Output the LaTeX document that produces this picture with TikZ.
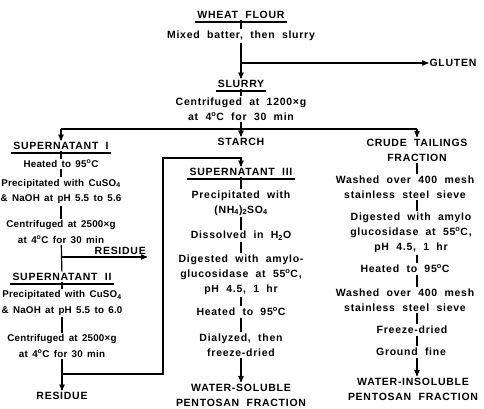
\documentclass[tikz,border=0pt]{standalone}
\usepackage{fontspec}
\setmainfont{Liberation Sans}
\newfontfamily\widefnt{Liberation Sans Bold}[LetterSpace=7, WordSpace=2.0]
\newfontfamily\narrowfnt{Liberation Sans Bold}[LetterSpace=2, WordSpace=1.5]
\usetikzlibrary{arrows}
\newcommand{\chem}[1]{\textsubscript{#1}}
\newcommand{\dg}{\textsuperscript{o}}
\tikzset{
  txt/.style = {align=center, inner xsep=1pt, inner ysep=1.5pt,
    font=\fontsize{10.5}{15}\selectfont\widefnt},
  ltxt/.style = {txt, font=\fontsize{9.8}{15.5}\selectfont\narrowfnt},% left column
  hdr/.style = {txt, inner xsep=2pt, append after command={
    ([yshift=-1.5pt]\tikzlastnode.south west) edge[lnk]
    ([yshift=-1.5pt]\tikzlastnode.south east)}},% heading, underlined
  lnk/.style = {line width=1.2pt},% plain connector
  flw/.style = {lnk, ->}% connector with arrow
}
\begin{document}
\begin{tikzpicture}[x=1pt, y=-1pt, >=stealth']
\useasboundingbox (0,0) rectangle (484,408);
% top part
\node [hdr] (flour) at (241,15) {WHEAT FLOUR};
\node [txt] (mix) at (241,36) {Mixed batter, then slurry};
\node [txt] (gluten) at (453,63) {GLUTEN};
\node [hdr] (slurry) at (241,84) {SLURRY};
\node [txt] (cent1) at (241,109) {Centrifuged at 1200×g\\at 4\dg C for 30 min};
\coordinate (gsplit) at (241,63);
\coordinate (split) at (241,129);
\draw [lnk] (flour) -- (mix);
\draw [flw] (mix) -- (slurry);
\draw [flw] (gsplit) -- (gluten);
\draw [lnk] (slurry) -- (cent1);
\draw [lnk] (cent1) -- (split);
% left column
\node [hdr] (sup1) at (61,146) {SUPERNATANT I};
\node [ltxt] (heat1) at (61,164) {Heated to 95\dg C};
\node [ltxt] (prec1) at (61,191.5) {Precipitated with CuSO\chem{4}\\\& NaOH at pH 5.5 to 5.6};
\node [ltxt] (cent2) at (61,232) {Centrifuged at 2500×g\\at 4\dg C for 30 min};
\node [txt, anchor=south east] (res1) at (147,256) {RESIDUE};
\node [hdr] (sup2) at (62,277) {SUPERNATANT II};
\node [ltxt] (prec2) at (62,303) {Precipitated with CuSO\chem{4}\\\& NaOH at pH 5.5 to 6.0};
\node [ltxt] (cent3) at (62,346) {Centrifuged at 2500×g\\at 4\dg C for 30 min};
\node [txt] (res2) at (62,396) {RESIDUE};
\coordinate (rsplit) at (61,257);
\coordinate (bsplit) at (62,374);
\coordinate (bx) at (163,158);
\draw [lnk] (sup1) -- (heat1);
\draw [lnk] (heat1) -- (prec1);
\draw [lnk] (prec1) -- (cent2);
\draw [lnk] (cent2) -- (sup2);
\draw [flw] (rsplit) -- (rsplit -| res1.south east);
\draw [lnk] (sup2) -- (prec2);
\draw [lnk] (prec2) -- (cent3);
\draw [flw] (cent3) -- (res2);
% middle column
\node [txt] (starch) at (241,142) {STARCH};
\node [hdr] (sup3) at (241,172) {SUPERNATANT III};
\node [txt] (pnh) at (241,203) {Precipitated with\\(NH\chem{4})\chem{2}SO\chem{4}};
\node [txt] (diss) at (241,236) {Dissolved in H\chem{2}O};
\node [txt] (dig1) at (241,275) {Digested with amylo-\\glucosidase at 55\dg C,\\pH 4.5, 1 hr};
\node [txt] (heat3) at (241,312) {Heated to 95\dg C};
\node [txt] (dial) at (241,345) {Dialyzed, then\\freeze-dried};
\node [txt] (wsol) at (241,395) {WATER-SOLUBLE\\PENTOSAN FRACTION};
\draw [flw] (bsplit) -| (bx) -| (sup3);
\draw [lnk] (sup3) -- (pnh);
\draw [lnk] (pnh) -- (diss);
\draw [lnk] (diss) -- (dig1);
\draw [lnk] (dig1) -- (heat3);
\draw [lnk] (heat3) -- (dial);
\draw [flw] (dial) -- (wsol);
% right column
\node [txt] (crude) at (417,150) {CRUDE TAILINGS\\FRACTION};
\node [txt] (wash1) at (405,187) {Washed over 400 mesh\\stainless steel sieve};
\node [txt] (dig2) at (411,233) {Digested with amylo\\glucosidase at 55\dg C,\\pH 4.5, 1 hr};
\node [txt] (heat4) at (405,269) {Heated to 95\dg C};
\node [txt] (wash2) at (405,300) {Washed over 400 mesh\\stainless steel sieve};
\node [txt] (freeze) at (412,330) {Freeze-dried};
\node [txt] (ground) at (411,352) {Ground fine};
\node [txt] (winsol) at (413,389) {WATER-INSOLUBLE\\PENTOSAN FRACTION};
\draw [lnk] (crude.south) -- (wash1.north -| crude);
\draw [lnk] (wash1.south -| crude) -- (dig2.north -| crude);
\draw [lnk] (dig2.south -| crude) -- (heat4.north -| crude);
\draw [lnk] (heat4.south -| crude) -- (wash2.north -| crude);
\draw [lnk] (wash2.south -| crude) -- (freeze.north -| crude);
\draw [lnk] (freeze.south -| crude) -- (ground.north -| crude);
\draw [flw] (ground.south -| crude) -- (winsol.north -| crude);
% branch to the three fractions
\draw [lnk] (sup1 |- split) -- (crude |- split);
\draw [flw] (sup1 |- split) -- (sup1);
\draw [flw] (split) -- (starch);
\draw [flw] (crude |- split) -- (crude);
\end{tikzpicture}
\end{document}
